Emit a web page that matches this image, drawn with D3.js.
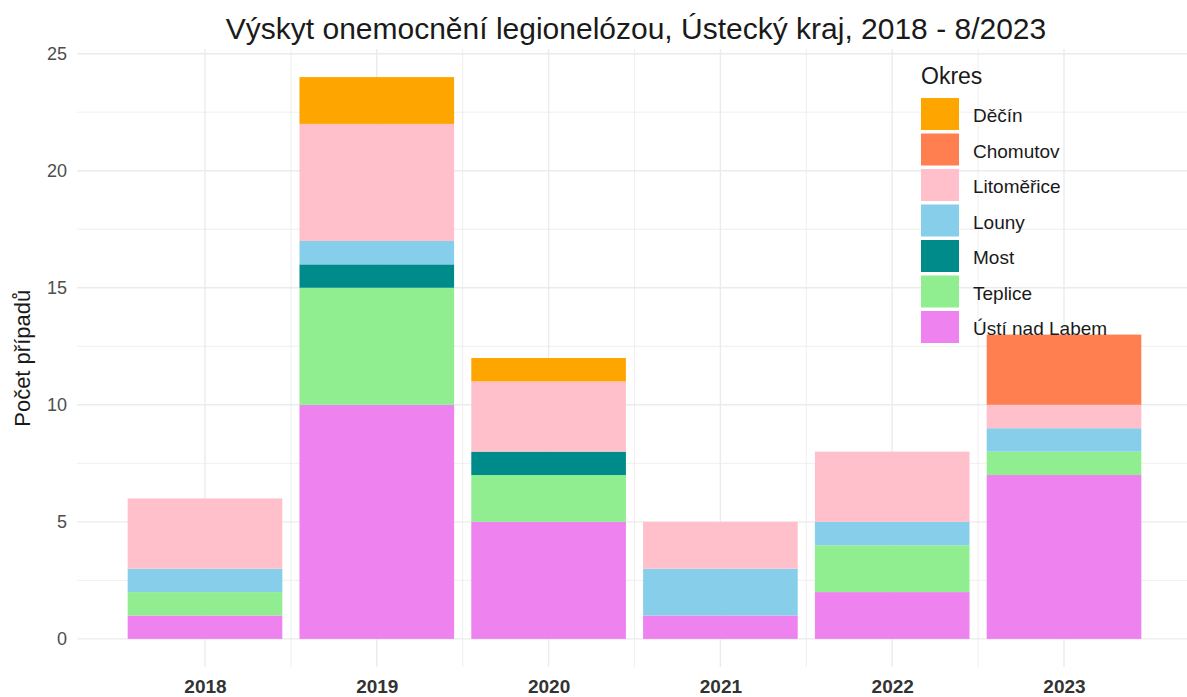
<!DOCTYPE html>
<html>
<head>
<meta charset="utf-8">
<script src="https://cdn.jsdelivr.net/npm/d3@7"></script>
<style>
  body { margin: 0; background: #fff; }
  svg { font-family: "Liberation Sans", Arial, sans-serif; display: block; }
  .grid line { stroke: #ebebeb; }
  .axis path, .axis line { display: none; }
</style>
</head>
<body>
<svg width="1187" height="697"></svg>
<script>
const years = [2018, 2019, 2020, 2021, 2022, 2023];
const yTicks = [0, 5, 10, 15, 20, 25];

// legend order (top to bottom)
const districts = ['Děčín', 'Chomutov', 'Litoměřice', 'Louny', 'Most', 'Teplice', 'Ústí nad Labem'];
const districtColors = ['#FFA500', '#FF7F50', '#FFC0CB', '#87CEEB', '#008B8B', '#90EE90', '#EE82EE'];

// cases per year for each district
const decin      = [0, 2, 1, 0, 0, 0];
const chomutov   = [0, 0, 0, 0, 0, 3];
const litomerice = [3, 5, 3, 2, 3, 1];
const louny      = [1, 1, 0, 2, 1, 1];
const most       = [0, 1, 1, 0, 0, 0];
const teplice    = [1, 5, 2, 0, 2, 1];
const usti       = [1, 10, 5, 1, 2, 7];

const title = 'Výskyt onemocnění legionelózou, Ústecký kraj, 2018 - 8/2023';
const yLabel = 'Počet případů';
const legendTitle = 'Okres';

const seriesValues = [decin, chomutov, litomerice, louny, most, teplice, usti];
const data = years.map((yr, i) => {
  const row = { year: yr };
  districts.forEach((name, j) => { row[name] = seriesValues[j][i]; });
  return row;
});

const svg = d3.select('svg');
const panel = { left: 77, right: 1192, top: 49, bottom: 667 };
const barWidth = 0.9;

// ggplot-like 5% expansion
const xLo = years[0] - barWidth / 2, xHi = years[years.length - 1] + barWidth / 2;
const xPad = (xHi - xLo) * 0.05;
const xScale = d3.scaleLinear()
  .domain([xLo - xPad, xHi + xPad])
  .range([panel.left, panel.right]);

const stackKeys = districts.slice().reverse();
const stacked = d3.stack().keys(stackKeys)(data);
const yMax = d3.max(data, d => d3.sum(districts, k => d[k]));
const yScale = d3.scaleLinear()
  .domain([-yMax * 0.05, yMax * 1.05])
  .range([panel.bottom, panel.top]);

const color = d3.scaleOrdinal().domain(districts).range(districtColors);

// grid
const grid = svg.append('g').attr('class', 'grid');
const yMinor = d3.range(2.5, 25, 5);
const xMinor = years.slice(0, -1).map(y => y + 0.5);

grid.selectAll('.ymin').data(yMinor).join('line')
  .attr('x1', panel.left).attr('x2', panel.right)
  .attr('y1', d => yScale(d)).attr('y2', d => yScale(d))
  .attr('stroke-width', 0.8);
grid.selectAll('.ymaj').data(yTicks).join('line')
  .attr('x1', panel.left).attr('x2', panel.right)
  .attr('y1', d => yScale(d)).attr('y2', d => yScale(d))
  .attr('stroke-width', 1.4);
grid.selectAll('.xmin').data(xMinor).join('line')
  .attr('x1', d => xScale(d)).attr('x2', d => xScale(d))
  .attr('y1', panel.top).attr('y2', panel.bottom)
  .attr('stroke-width', 0.8);
grid.selectAll('.xmaj').data(years).join('line')
  .attr('x1', d => xScale(d)).attr('x2', d => xScale(d))
  .attr('y1', panel.top).attr('y2', panel.bottom)
  .attr('stroke-width', 1.4);

// bars
const bw = xScale(barWidth) - xScale(0);
svg.append('g').selectAll('g').data(stacked).join('g')
    .attr('fill', d => color(d.key))
  .selectAll('rect').data(d => d).join('rect')
    .attr('x', d => xScale(d.data.year) - bw / 2)
    .attr('width', bw)
    .attr('y', d => yScale(d[1]))
    .attr('height', d => yScale(d[0]) - yScale(d[1]));

// axes
const yAxis = d3.axisLeft(yScale).tickValues(yTicks).tickSize(0).tickPadding(10);
svg.append('g')
  .attr('class', 'axis')
  .attr('transform', `translate(${panel.left},0)`)
  .call(yAxis)
  .selectAll('text')
    .attr('font-size', 18)
    .attr('fill', '#4d4d4d')
    .style('font-family', '"Liberation Sans", Arial, sans-serif');

const xAxis = d3.axisBottom(xScale).tickValues(years).tickFormat(d3.format('d')).tickSize(0).tickPadding(13);
svg.append('g')
  .attr('class', 'axis')
  .attr('transform', `translate(0,${panel.bottom})`)
  .call(xAxis)
  .selectAll('text')
    .attr('font-size', 19)
    .attr('font-weight', 'bold')
    .attr('fill', '#333')
    .style('font-family', '"Liberation Sans", Arial, sans-serif');

// y label
svg.append('text')
  .attr('transform', `translate(30,${(yScale(0) + yScale(25)) / 2 + 12}) rotate(-90)`)
  .attr('text-anchor', 'middle')
  .attr('font-size', 22)
  .attr('fill', '#1a1a1a')
  .text(yLabel);

// title
svg.append('text')
  .attr('x', 636)
  .attr('y', 39)
  .attr('text-anchor', 'middle')
  .attr('font-size', 30)
  .attr('fill', '#1a1a1a')
  .text(title);

// legend
const legend = svg.append('g').attr('transform', 'translate(921,0)');
legend.append('text')
  .attr('x', 0).attr('y', 84)
  .attr('font-size', 23)
  .attr('fill', '#1a1a1a')
  .text(legendTitle);

const item = legend.selectAll('.item').data(districts).join('g')
  .attr('transform', (d, i) => `translate(0,${98 + i * 35.5})`);
item.append('rect')
  .attr('width', 38).attr('height', 32)
  .attr('fill', d => color(d));
item.append('text')
  .attr('x', 52).attr('y', 24)
  .attr('font-size', 19)
  .attr('fill', '#1a1a1a')
  .text(d => d);
</script>
</body>
</html>
